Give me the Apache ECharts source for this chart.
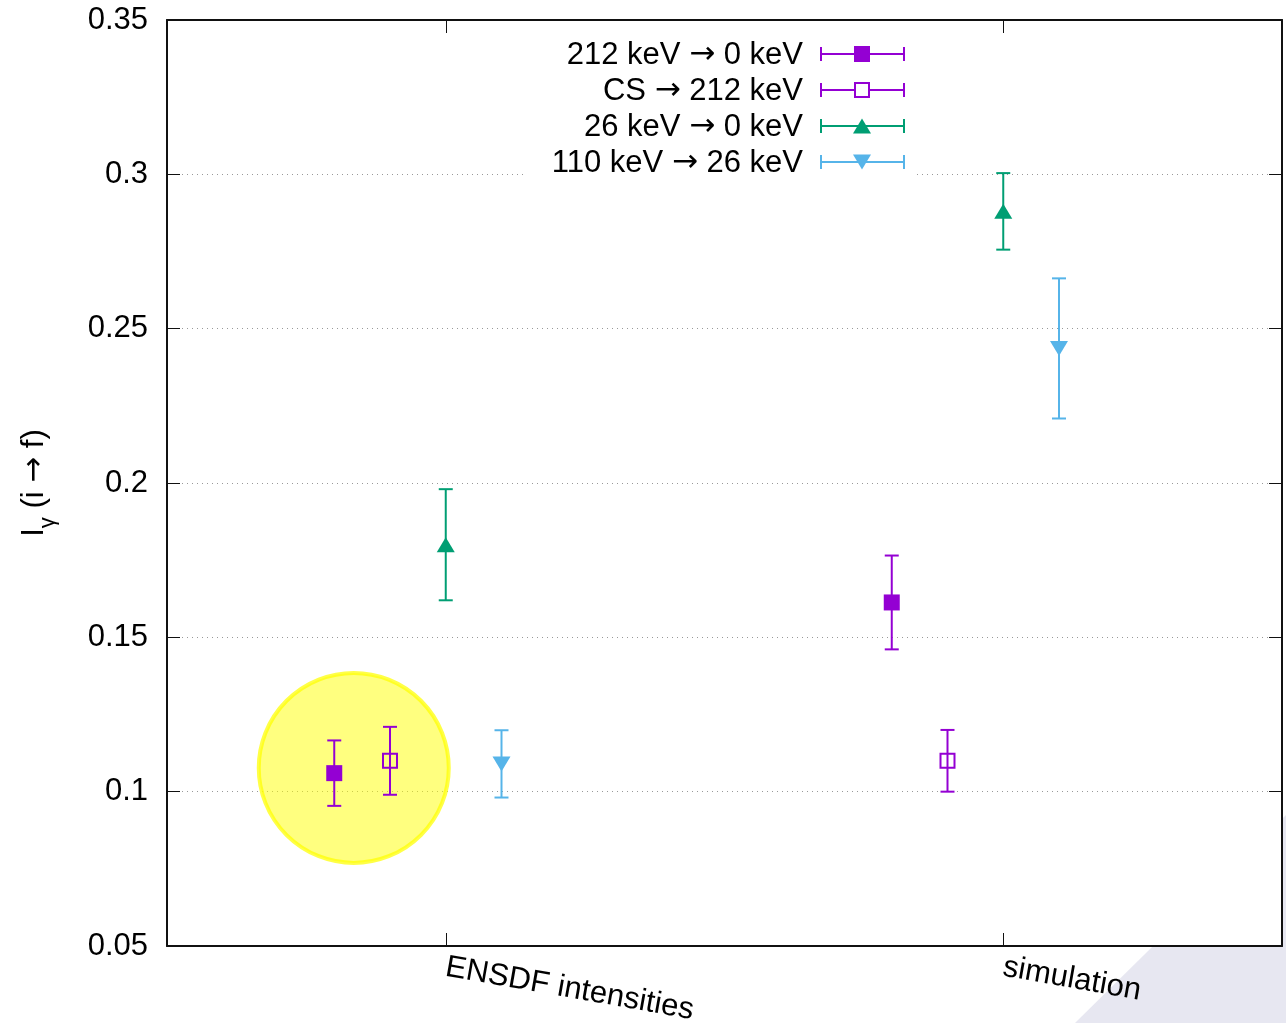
<!DOCTYPE html>
<html>
<head>
<meta charset="utf-8">
<script src="https://cdn.jsdelivr.net/npm/echarts@6/dist/echarts.min.js"></script>
<style>
  html, body { margin: 0; padding: 0; background: #fff; }
  #chart { width: 1286px; height: 1023px; }
</style>
</head>
<body>
<div id="chart"></div>
<script>
  // categories on the x axis
  const categories = ['ENSDF intensities', 'simulation']
  // y axis ticks
  const yTicks = [0.05, 0.1, 0.15, 0.2, 0.25, 0.3, 0.35]

  // series names (legend), as [from, to]
  const seriesNames = [['212 keV', '0 keV'], ['CS', '212 keV'], ['26 keV', '0 keV'], ['110 keV', '26 keV']]
  // values and errors, per category
  const val212 = [0.106, 0.1613]
  const err212 = [0.0106, 0.0152]
  const valCS = [0.110, 0.110]
  const errCS = [0.011, 0.010]
  const val26 = [0.180, 0.288]
  const err26 = [0.018, 0.0124]
  const val110 = [0.109, 0.2436]
  const err110 = [0.0109, 0.0227]
  // horizontal shift of each series inside a category
  const xShift = [-0.2, -0.1, 0, 0.1]
  // highlighted spot (yellow circle) in data coords
  const highlight = [-0.165, 0.1077]

  const colors = ['#9400d3', '#9400d3', '#009e73', '#56b4e9']
  const font = "'Liberation Sans', Arial, sans-serif"
  const arrowFont = "'DejaVu Sans', sans-serif"
  const fs = 31
  const values = [val212, valCS, val26, val110]
  const errors = [err212, errCS, err26, err110]

  const chart = echarts.init(document.getElementById('chart'))

  const makeData = (k) => categories.map((c, i) => [i + xShift[k], values[k][i], errors[k][i]])
  const plainName = (k) => seriesNames[k][0] + ' \u2192 ' + seriesNames[k][1]

  const errorSeries = (k) => ({
    type: 'custom',
    name: plainName(k),
    z: 3,
    data: makeData(k),
    renderItem: (params, api) => {
      const x = api.value(0), y = api.value(1), e = api.value(2)
      const hi = api.coord([x, y + e])
      const lo = api.coord([x, y - e])
      const hw = 7
      const st = { stroke: colors[k], lineWidth: 2 }
      return {
        type: 'group',
        children: [
          { type: 'line', shape: { x1: hi[0], y1: hi[1], x2: lo[0], y2: lo[1] }, style: st },
          { type: 'line', shape: { x1: hi[0] - hw, y1: hi[1], x2: hi[0] + hw, y2: hi[1] }, style: st },
          { type: 'line', shape: { x1: lo[0] - hw, y1: lo[1], x2: lo[0] + hw, y2: lo[1] }, style: st }
        ]
      }
    },
    animation: false
  })

  const symbols = [
    { symbol: 'rect', symbolSize: 16, itemStyle: { color: colors[0], opacity: 1 } },
    { symbol: 'rect', symbolSize: 14, itemStyle: { color: 'rgba(0,0,0,0)', borderColor: colors[1], borderWidth: 2, opacity: 1 } },
    { symbol: 'triangle', symbolSize: [18, 15], itemStyle: { color: colors[2], opacity: 1 } },
    { symbol: 'triangle', symbolSize: [18, 15], symbolRotate: 180, itemStyle: { color: colors[3], opacity: 1 } }
  ]

  const pointSeries = (k) => Object.assign({
    type: 'scatter',
    name: plainName(k),
    z: 4,
    data: makeData(k).map(d => [d[0], d[1]]),
    animation: false,
    silent: true
  }, symbols[k])

  const richText = {
    t: { fontSize: fs, fontFamily: font, color: '#000' },
    r: { fontSize: fs, fontFamily: arrowFont, color: '#000' }
  }

  // legend drawn by hand: text right aligned, then error bar sample
  const legendItems = []
  legendItems.push({
    type: 'rect', z: 20,
    shape: { x: 525, y: 36, width: 392, height: 145 },
    style: { fill: '#fff' }
  })
  seriesNames.forEach((n, k) => {
    const y = 54 + k * 36
    const st = { stroke: colors[k], lineWidth: 2 }
    legendItems.push({
      type: 'text', z: 21, x: 803, y: y + 1,
      style: {
        text: '{t|' + n[0] + ' }{r|\u2192}{t| ' + n[1] + '}',
        rich: richText, align: 'right', verticalAlign: 'middle'
      }
    })
    legendItems.push({ type: 'line', z: 21, shape: { x1: 821, y1: y, x2: 904, y2: y }, style: st })
    legendItems.push({ type: 'line', z: 21, shape: { x1: 821, y1: y - 7, x2: 821, y2: y + 7 }, style: st })
    legendItems.push({ type: 'line', z: 21, shape: { x1: 904, y1: y - 7, x2: 904, y2: y + 7 }, style: st })
    const s = symbols[k]
    const sz = Array.isArray(s.symbolSize) ? s.symbolSize : [s.symbolSize, s.symbolSize]
    if (s.symbol === 'rect') {
      legendItems.push({
        type: 'rect', z: 22,
        shape: { x: 862 - sz[0] / 2, y: y - sz[1] / 2, width: sz[0], height: sz[1] },
        style: k === 0 ? { fill: colors[k] } : { fill: '#fff', stroke: colors[k], lineWidth: 2 }
      })
    } else {
      const up = !s.symbolRotate
      const t = up ? y - sz[1] / 2 : y + sz[1] / 2
      const b = up ? y + sz[1] / 2 : y - sz[1] / 2
      legendItems.push({
        type: 'polygon', z: 22,
        shape: { points: [[862, t], [862 - sz[0] / 2, b], [862 + sz[0] / 2, b]] },
        style: { fill: colors[k] }
      })
    }
  })

  const axisLineStyle = { color: '#111', width: 2 }

  chart.setOption({
    animation: false,
    backgroundColor: '#fff',
    textStyle: { fontFamily: font },
    grid: {
      left: 167, top: 20, right: 4, bottom: 77,
      show: true, backgroundColor: '#fff', borderWidth: 0,
      outerBoundsMode: 'none'
    },
    graphic: [
      {
        type: 'polygon', z: -10, silent: true,
        shape: { points: [[1075, 1023], [1286, 815], [1286, 1023]] },
        style: { fill: '#e7e7f1' }
      }
    ].concat(legendItems),
    xAxis: [
      {
        type: 'value', min: -0.5, max: 1.5, position: 'bottom',
        axisLine: { show: true, onZero: false, lineStyle: axisLineStyle },
        axisTick: { show: true, inside: true, length: 13, customValues: [0, 1], lineStyle: { color: '#111', width: 1 } },
        axisLabel: {
          customValues: [0, 1], rotate: -10, margin: 21,
          fontSize: fs, color: '#000', fontFamily: font,
          formatter: v => categories[Math.round(v)]
        },
        splitLine: { show: false }
      },
      {
        type: 'value', min: -0.5, max: 1.5, position: 'top',
        axisLine: { show: true, onZero: false, lineStyle: axisLineStyle },
        axisTick: { show: true, inside: true, length: 13, customValues: [0, 1], lineStyle: { color: '#111', width: 1 } },
        axisLabel: { show: false },
        splitLine: { show: false }
      }
    ],
    yAxis: [
      {
        type: 'value', min: yTicks[0], max: yTicks[yTicks.length - 1], interval: 0.05,
        axisLine: { show: true, onZero: false, lineStyle: axisLineStyle },
        axisTick: { show: true, inside: true, length: 13, lineStyle: { color: '#111', width: 1 } },
        axisLabel: {
          margin: 19, fontSize: fs, color: '#000', fontFamily: font,
          padding: [8, 0, 0, 0],
          formatter: v => String(+v.toFixed(2))
        },
        splitLine: { show: true, lineStyle: { color: '#999', width: 1, type: [1, 4] } },
        name: '{a|I}{s|\u03b3}{a| (i }{r|\u2192}{a| f)}',
        nameLocation: 'middle',
        nameGap: 108,
        nameTextStyle: {
          fontFamily: font,
          rich: {
            a: { fontSize: fs, lineHeight: 40, verticalAlign: 'top', color: '#000', fontFamily: font },
            r: { fontSize: fs, lineHeight: 40, verticalAlign: 'top', color: '#000', fontFamily: arrowFont },
            s: { fontSize: 22, lineHeight: 22, verticalAlign: 'bottom', color: '#000', fontFamily: font }
          }
        }
      },
      {
        type: 'value', min: yTicks[0], max: yTicks[yTicks.length - 1], interval: 0.05, position: 'right',
        axisLine: { show: true, onZero: false, lineStyle: axisLineStyle },
        axisTick: { show: true, inside: true, length: 13, lineStyle: { color: '#111', width: 1 } },
        axisLabel: { show: false },
        splitLine: { show: false }
      }
    ],
    series: [
      {
        // yellow highlight circle
        type: 'custom',
        z: 1,
        silent: true,
        data: [highlight],
        renderItem: (params, api) => {
          const c = api.coord([api.value(0), api.value(1)])
          return {
            type: 'circle',
            shape: { cx: c[0], cy: c[1], r: 95 },
            style: { fill: 'rgba(255,255,0,0.5)', stroke: 'rgba(255,255,0,0.72)', lineWidth: 4 }
          }
        },
        animation: false
      }
    ]
      .concat([0, 1, 2, 3].map(errorSeries))
      .concat([0, 1, 2, 3].map(pointSeries))
  })
</script>
</body>
</html>
